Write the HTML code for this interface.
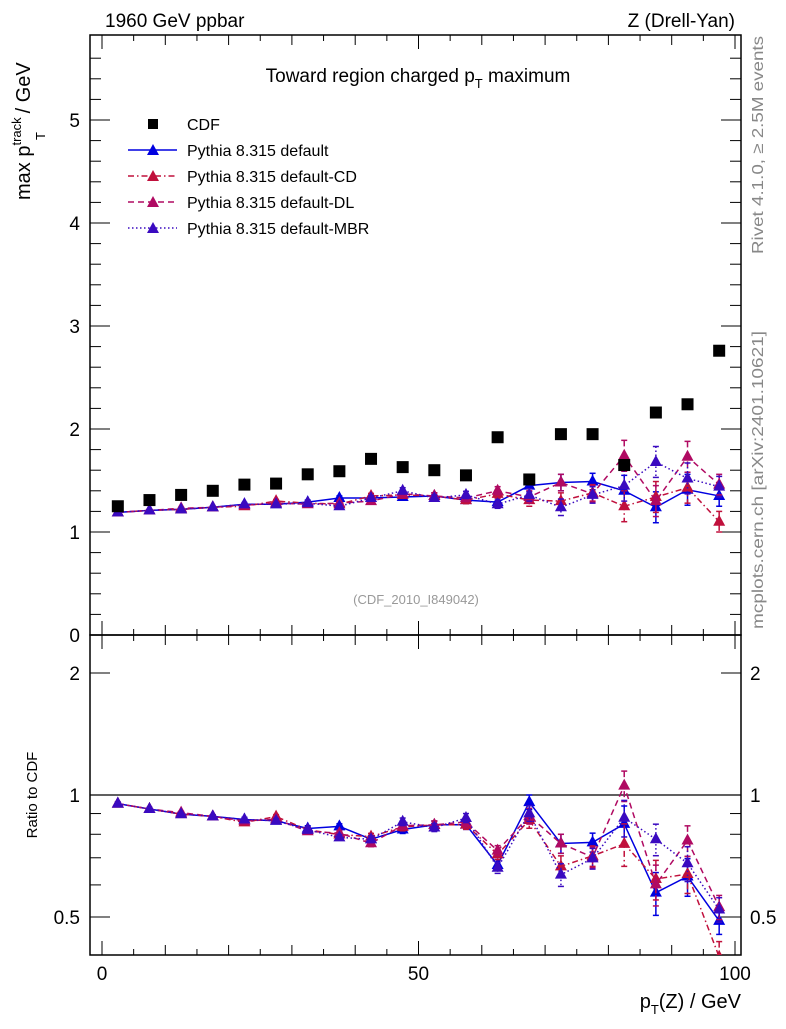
<!DOCTYPE html>
<html><head><meta charset="utf-8"><style>
body{margin:0;background:#fff;}
svg{font-family:"Liberation Sans",sans-serif;}
</style></head><body>
<svg id="c" width="786" height="1024" viewBox="0 0 786 1024" xmlns="http://www.w3.org/2000/svg">
<text x="105" y="27" font-size="19">1960 GeV ppbar</text>
<text x="735" y="27" font-size="19" text-anchor="end">Z (Drell-Yan)</text>
<text x="418" y="82" font-size="19" text-anchor="middle">Toward region charged p<tspan font-size="13" dy="6">T</tspan><tspan dy="-6"> maximum</tspan></text>
<text x="416" y="604" font-size="13" fill="#999" text-anchor="middle">(CDF_2010_I849042)</text>
<text transform="translate(763,145) rotate(-90)" font-size="16" fill="#888" text-anchor="middle" textLength="218" lengthAdjust="spacingAndGlyphs">Rivet 4.1.0, ≥ 2.5M events</text>
<text transform="translate(763,480) rotate(-90)" font-size="16" fill="#888" text-anchor="middle" textLength="298" lengthAdjust="spacingAndGlyphs">mcplots.cern.ch [arXiv:2401.10621]</text>
<g>
<text transform="translate(30,200) rotate(-90)" font-size="20">max p<tspan font-size="13" dy="-9">track</tspan><tspan dy="9" dx="4">/ GeV</tspan></text>
<text transform="translate(45,140) rotate(-90)" font-size="13">T</text>
</g>
<text transform="translate(37,795) rotate(-90)" font-size="15" text-anchor="middle">Ratio to CDF</text>
<text x="741" y="1008" font-size="20" text-anchor="end">p<tspan font-size="13" dy="6">T</tspan><tspan dy="-6">(Z) / GeV</tspan></text>
<g id="g"></g>
</svg>
<script>
const xCenters=[2.5,7.5,12.5,17.5,22.5,27.5,32.5,37.5,42.5,47.5,52.5,57.5,62.5,67.5,72.5,77.5,82.5,87.5,92.5,97.5];
const cdf=[1.25,1.31,1.36,1.40,1.46,1.47,1.56,1.59,1.71,1.63,1.60,1.55,1.92,1.51,1.95,1.95,1.65,2.16,2.24,2.76];
const pyDefault=[1.19,1.21,1.22,1.24,1.27,1.27,1.29,1.33,1.33,1.34,1.35,1.31,1.29,1.45,1.48,1.49,1.40,1.24,1.41,1.35];
const pyCD=[1.19,1.21,1.22,1.24,1.25,1.30,1.28,1.27,1.35,1.36,1.35,1.31,1.37,1.31,1.30,1.38,1.25,1.34,1.43,1.10];
const pyDL=[1.19,1.21,1.23,1.24,1.26,1.28,1.27,1.28,1.30,1.37,1.35,1.33,1.40,1.34,1.48,1.37,1.74,1.30,1.73,1.46];
const pyMBR=[1.19,1.21,1.22,1.24,1.27,1.27,1.28,1.25,1.33,1.40,1.33,1.36,1.27,1.36,1.24,1.36,1.45,1.68,1.52,1.44];
const errs=[0.01,0.01,0.01,0.01,0.015,0.015,0.02,0.02,0.025,0.03,0.03,0.035,0.04,0.06,0.08,0.08,0.15,0.15,0.15,0.1];
const mainTicks=[0,1,2,3,4,5];
const ratioTicks=[0.5,1,2];
const xTicks=[0,50,100];

const NS="http://www.w3.org/2000/svg";
const g=document.getElementById('g');
const L=90,R=741,T=35,MB=635,RB=955;
const X=v=>102+v*6.33;
const Y=v=>635-v*103;
const YR=v=>795-Math.log2(v)*122;
function mk(t,a,p){const e=document.createElementNS(NS,t);for(const k in a)e.setAttribute(k,a[k]);(p||g).appendChild(e);return e;}

let f1=mk('rect',{x:L,y:T,width:R-L,height:MB-T,fill:'none',stroke:'#000','stroke-width':1.5});


let f2=mk('rect',{x:L,y:MB,width:R-L,height:RB-MB,fill:'none',stroke:'#000','stroke-width':1.5});


let one=mk('line',{x1:L,x2:R,y1:YR(1),y2:YR(1),stroke:'#000','stroke-width':1.2});



for(let v=0;v<=100;v+=5){const x=X(v);const len=v%10===0?(v%50===0?14:10):6;
 [MB,RB].forEach(b=>{mk('line',{x1:x,x2:x,y1:b,y2:b-len,stroke:'#000'});mk('line',{x1:x,x2:x,y1:(b===MB?T:MB),y2:(b===MB?T:MB)+len,stroke:'#000'});});}
xTicks.forEach(v=>{const t=mk('text',{x:X(v),y:980,'font-size':19,'text-anchor':'middle'});t.textContent=v;
 
 });
for(let v=0;v<=5.8;v+=0.2){const y=Y(v);if(y<T)break;const maj=Math.abs(v-Math.round(v))<0.01;const len=maj?20:11;
 mk('line',{x1:L,x2:L+len,y1:y,y2:y,stroke:'#000'});mk('line',{x1:R,x2:R-len,y1:y,y2:y,stroke:'#000'});}
mainTicks.forEach(v=>{const t=mk('text',{x:80,y:Y(v)+7,'font-size':19,'text-anchor':'end'});t.textContent=v;
 
 });
[0.5,0.6,0.7,0.8,0.9,1,2].forEach(v=>{const y=YR(v);const maj=ratioTicks.includes(v);const len=maj?20:11;
 mk('line',{x1:L,x2:L+len,y1:y,y2:y,stroke:'#000'});mk('line',{x1:R,x2:R-len,y1:y,y2:y,stroke:'#000'});});
ratioTicks.forEach(v=>{[[80,'end'],[750,'start']].forEach(([x,a])=>{const t=mk('text',{x:x,y:YR(v)+7,'font-size':19,'text-anchor':a});t.textContent=v;
 
 });});

const series=[
 {name:'default',d:pyDefault,c:'#0000e0',dash:'',lab:'Pythia 8.315 default'},
 {name:'default-cd',d:pyCD,c:'#c0103c',dash:'6,3,1.5,3',lab:'Pythia 8.315 default-CD'},
 {name:'default-dl',d:pyDL,c:'#b00a62',dash:'6,4',lab:'Pythia 8.315 default-DL'},
 {name:'default-mbr',d:pyMBR,c:'#3a0ac0',dash:'1.5,2.5',lab:'Pythia 8.315 default-MBR'}];
function tri(x,y,c,p,n){const t=mk('polygon',{points:`${x},${y-7} ${x-6},${y+4} ${x+6},${y+4}`,fill:c},p);
 
 }
const clipT=mk('clipPath',{id:'cm'});mk('rect',{x:L,y:T,width:R-L,height:MB-T},clipT);
const clipR=mk('clipPath',{id:'cr'});mk('rect',{x:L,y:MB,width:R-L,height:RB-MB},clipR);
const gm=mk('g',{'clip-path':'url(#cm)'});const gr=mk('g',{'clip-path':'url(#cr)'});
series.forEach(s=>{
 [[gm,Y,s.d.map(v=>v),errs],[gr,YR,s.d.map((v,i)=>v/cdf[i]),errs.map((e,i)=>e/cdf[i])]].forEach(([p,YY,vals,ee])=>{
  const pts=vals.map((v,i)=>X(xCenters[i])+','+YY(v)).join(' ');
  const pl=mk('polyline',{points:pts,fill:'none',stroke:s.c,'stroke-width':1.5,'stroke-dasharray':s.dash},p);
  
  
  vals.forEach((v,i)=>{const x=X(xCenters[i]);const y1=YY(v+ee[i]),y2=YY(Math.max(v-ee[i],0.01));
   mk('line',{x1:x,x2:x,y1:y1,y2:y2,stroke:s.c,'stroke-width':1.5,'stroke-dasharray':s.dash},p);
   mk('line',{x1:x-3,x2:x+3,y1:y1,y2:y1,stroke:s.c,'stroke-width':1.5},p);
   mk('line',{x1:x-3,x2:x+3,y1:y2,y2:y2,stroke:s.c,'stroke-width':1.5},p);
   tri(x,YY(v),s.c,p,s.name+'-marker');});
 });
});
cdf.forEach((v,i)=>{const r=mk('rect',{x:X(xCenters[i])-6,y:Y(v)-6,width:12,height:12,fill:'#000'},gm);
 
 });
const lg=mk('g',{});
mk('rect',{x:148,y:119,width:10,height:10,fill:'#000'},lg);
let t0=mk('text',{x:187,y:130,'font-size':16},lg);t0.textContent='CDF';


series.forEach((s,k)=>{const y=150+26*k;
 mk('line',{x1:128,x2:177,y1:y,y2:y,stroke:s.c,'stroke-width':1.5,'stroke-dasharray':s.dash},lg);
 tri(153,y+1,s.c,lg,'legend-marker');
 const t=mk('text',{x:187,y:y+6,'font-size':16},lg);t.textContent=s.lab;
 
 });
</script>
</body></html>
